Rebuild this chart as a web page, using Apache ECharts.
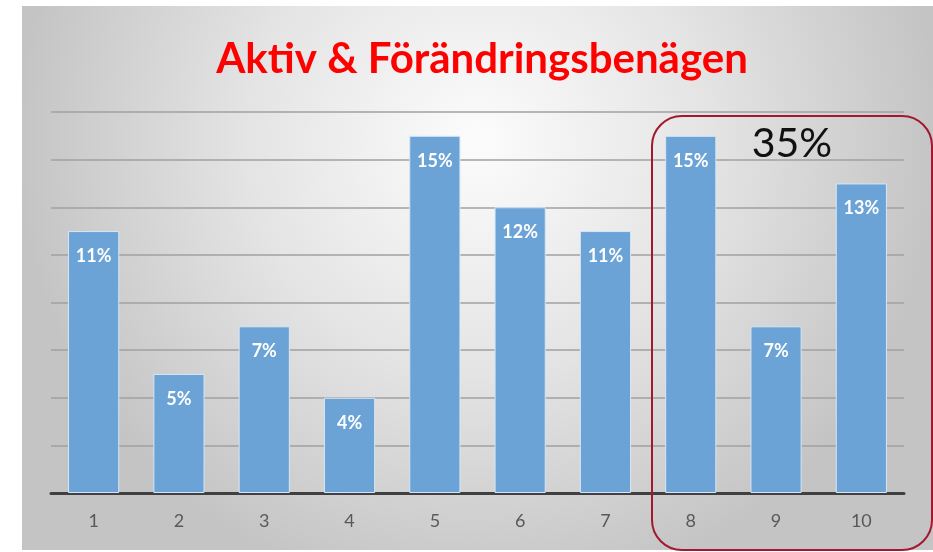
<!DOCTYPE html>
<html>
<head>
<meta charset="utf-8">
<script src="https://cdn.jsdelivr.net/npm/echarts@6/dist/echarts.min.js"></script>
<style>
  html, body { margin: 0; padding: 0; background: #fff; }
  #chart { width: 933px; height: 552px; }
</style>
</head>
<body>
<div id="chart"></div>
<script>
const categories = ['1', '2', '3', '4', '5', '6', '7', '8', '9', '10']
const shares = [11, 5, 7, 4, 15, 12, 11, 15, 7, 13]
const groupLabel = '35%'

const chart = echarts.init(document.getElementById('chart'))

chart.setOption({
  animation: false,
  title: {
    text: 'Aktiv & Förändringsbenägen',
    left: 477,
    textAlign: 'center',
    top: 33,
    textStyle: {
      color: '#ff0000',
      fontFamily: 'Lato',
      fontWeight: 'bold',
      fontSize: 42,
    },
  },
  graphic: [
    {
      type: 'rect',
      z: -10,
      shape: { x: 22, y: 6, width: 911, height: 544 },
      style: {
        fill: new echarts.graphic.RadialGradient(0.5, 0.25, 0.85, [
          { offset: 0, color: '#fcfcfc' },
          { offset: 0.5, color: '#e4e4e4' },
          { offset: 1, color: '#c4c4c4' },
        ]),
      },
    },
    {
      type: 'rect',
      z: 10,
      shape: { x: 652, y: 116, width: 280, height: 434, r: 30 },
      style: { fill: 'none', stroke: '#a3182f', lineWidth: 2 },
    },
    {
      type: 'text',
      z: 10,
      x: 792,
      y: 144,
      style: {
        text: groupLabel,
        fill: '#111',
        fontFamily: 'Lato',
        fontSize: 41,
        align: 'center',
        verticalAlign: 'middle',
      },
    },
  ],
  grid: { left: 51, right: 29, top: 112, bottom: 59 },
  xAxis: {
    type: 'category',
    data: categories,
    axisTick: { show: false },
    axisLine: { lineStyle: { color: '#404040', width: 3 } },
    axisLabel: { color: '#595959', fontFamily: 'Lato', fontSize: 18, margin: 19 },
  },
  yAxis: {
    type: 'value',
    min: 0,
    max: 16,
    interval: 2,
    axisLabel: { show: false },
    axisLine: { show: false },
    axisTick: { show: false },
    splitLine: { lineStyle: { color: '#a0a0a0', width: 1.5 } },
  },
  series: [
    {
      type: 'bar',
      data: shares,
      barWidth: '60%',
      itemStyle: { color: '#6ba3d7', borderColor: '#d6e6f5', borderWidth: 1 },
      label: {
        show: true,
        position: 'insideTop',
        distance: 16,
        formatter: '{c}%',
        color: '#fff',
        fontFamily: 'Lato',
        fontWeight: 'bold',
        fontSize: 18,
      },
    },
  ],
})
</script>
</body>
</html>
